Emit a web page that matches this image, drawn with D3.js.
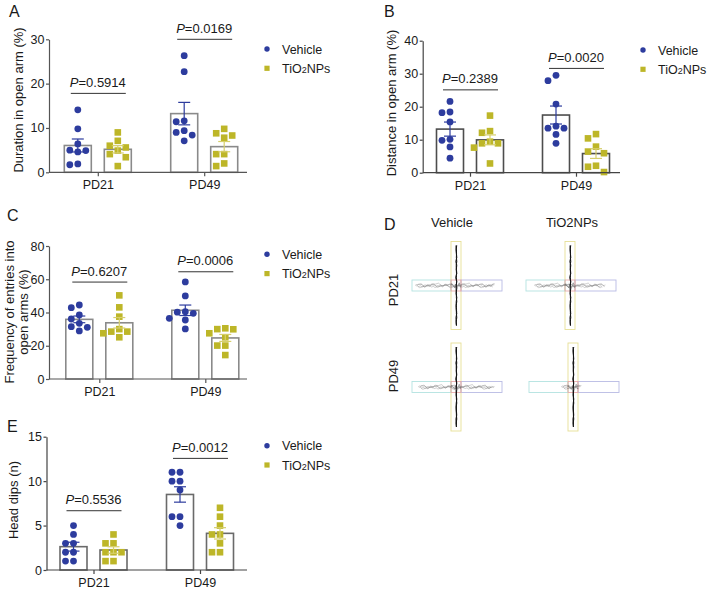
<!DOCTYPE html>
<html><head><meta charset="utf-8">
<script src="https://cdn.jsdelivr.net/npm/d3@7"></script>
<style>
body{margin:0;background:#fff}
svg{display:block}
text{font-family:"Liberation Sans",Arial,Helvetica,sans-serif;fill:#1a1a1a}
</style>
</head><body>
<svg id="fig" width="709" height="591"></svg>
<script>
// ---------------- DATA ----------------
const groups = ["PD21", "PD49"];
const seriesNames = ["Vehicle", "TiO2NPs"];

// individual animals per group (PD21, PD49)
const durationVehicle = [[14.1, 9.8, 6.4, 5.0, 4.9, 4.6, 1.9, 1.7], [26.3, 22.7, 11.6, 11.4, 9.4, 9.0, 8.4, 7.1]];
const durationTiO2   = [[9.0, 7.1, 6.0, 5.6, 4.9, 4.1, 3.4, 1.4], [9.8, 8.8, 8.3, 7.8, 4.1, 4.1, 2.0, 1.4]];
const distanceVehicle = [[21.6, 18.4, 18.2, 15.4, 10.1, 9.8, 7.8, 4.4], [29.5, 27.9, 20.8, 14.1, 13.5, 13.5, 11.6, 8.9]];
const distanceTiO2   = [[17.3, 12.6, 12.1, 9.4, 8.9, 8.9, 7.6, 2.8], [11.7, 10.4, 7.9, 6.4, 5.9, 2.1, 1.8, 0.2]];
const entriesVehicle = [[44.5, 42.9, 38.5, 36.1, 33.5, 31.5, 31.1, 28.9], [58.4, 50.0, 40.5, 40.2, 39.5, 36.5, 35.5, 30.1]];
const entriesTiO2   = [[50.3, 43.1, 37.5, 30.0, 28.5, 28.5, 27.5, 25.1], [30.5, 30.0, 29.9, 27.5, 25.1, 20.1, 20.1, 14.4]];
const headDipsVehicle = [[5, 4, 3, 3, 2, 2, 1, 1], [11, 11, 10, 10, 9, 6, 6, 5]];
const headDipsTiO2   = [[4, 3, 3, 2, 2, 2, 1, 1], [7, 6, 5, 4, 4, 3, 2, 2]];

const pDuration = ["0.5914", "0.0169"];
const pDistance = ["0.2389", "0.0020"];
const pEntries  = ["0.6207", "0.0006"];
const pHeadDips = ["0.5536", "0.0012"];

const ticksDuration = [0, 10, 20, 30];
const ticksDistance = [0, 10, 20, 30, 40];
const ticksEntries  = [0, 20, 40, 60, 80];
const ticksHeadDips = [0, 5, 10, 15];

const mazeCols = ["Vehicle", "TiO2NPs"];
const mazeRows = ["PD21", "PD49"];

// ---------------- STYLE ----------------
const BLUE = "#2d3c9e";
const OLIVE = "#bdb628";
const OLIVE_ERR = "#d6cf6c";
const FONT = '"Liberation Sans",Arial,Helvetica,sans-serif';

const svg = d3.select("#fig");

function panelLetter(t, x, y, size) {
  svg.append("text").attr("x", x).attr("y", y).attr("font-size", size || 16).text(t);
}

function tio2Text(sel, small) {
  sel.append("tspan").text("TiO");
  sel.append("tspan").attr("font-size", small).text("2");
  sel.append("tspan").text("NPs");
}

function swarm(values, y, cx, step, minDist) {
  const placed = [];
  const order = values.map((v, i) => ({ v, i })).sort((a, b) => b.v - a.v);
  const cands = [0, -step, step, -2 * step, 2 * step, -3 * step, 3 * step];
  order.forEach(o => {
    const py = y(o.v);
    let off = cands.find(c => placed.every(p => Math.hypot(p.x - (cx + c), p.y - py) >= minDist));
    if (off === undefined) off = 0;
    placed.push({ x: cx + off, y: py, v: o.v });
  });
  return placed;
}

function barPanel(cfg) {
  const L = cfg.layout;
  const g = svg.append("g");
  const y = d3.scaleLinear().domain([0, d3.max(cfg.ticks)]).range([L.yBot, L.yTop]);
  const xg = d3.scalePoint().domain(groups).range(L.groupRange);
  const xs = d3.scaleBand().domain(seriesNames).range([-33.5, 33.5]).paddingInner(0.325);

  const sets = [cfg.vehicle, cfg.tio2];
  const errColors = [BLUE, OLIVE_ERR];

  const stats = [];
  groups.forEach((gname, gi) => {
    seriesNames.forEach((sname, si) => {
      const vals = sets[si][gi];
      const m = d3.mean(vals);
      const sem = d3.deviation(vals) / Math.sqrt(vals.length);
      stats.push({ gname, sname, si, gi, vals, m, sem });
    });
  });

  // bars
  g.selectAll("rect.bar").data(stats).join("rect")
    .attr("class", "bar")
    .attr("x", d => xg(d.gname) + xs(d.sname))
    .attr("width", xs.bandwidth())
    .attr("y", d => y(d.m))
    .attr("height", d => y(0) - y(d.m))
    .attr("fill", "#fff")
    .attr("stroke", L.barStroke)
    .attr("stroke-width", 1.6);

  // points
  stats.forEach(d => {
    const cx = xg(d.gname) + xs(d.sname) + xs.bandwidth() / 2;
    const pts = swarm(d.vals, y, cx, 8, 7.2);
    if (d.si === 0) {
      g.selectAll(null).data(pts).join("circle")
        .attr("cx", p => p.x).attr("cy", p => p.y).attr("r", 3.4)
        .attr("fill", BLUE);
    } else {
      g.selectAll(null).data(pts).join("rect")
        .attr("x", p => p.x - 3.3).attr("y", p => p.y - 3.3)
        .attr("width", 6.6).attr("height", 6.6)
        .attr("fill", OLIVE);
    }
  });

  // error bars
  stats.forEach(d => {
    const cx = xg(d.gname) + xs(d.sname) + xs.bandwidth() / 2;
    const c = errColors[d.si];
    const top = y(d.m + d.sem), bot = y(d.m - d.sem);
    g.append("line").attr("x1", cx).attr("x2", cx).attr("y1", top).attr("y2", bot)
      .attr("stroke", c).attr("stroke-width", 1.2);
    [top, bot].forEach(yy => g.append("line").attr("x1", cx - 6).attr("x2", cx + 6)
      .attr("y1", yy).attr("y2", yy).attr("stroke", c).attr("stroke-width", 1.2));
  });

  // y axis
  const ya = g.append("g").attr("transform", `translate(${L.x0},0)`)
    .call(d3.axisLeft(y).tickValues(cfg.ticks).tickSize(3).tickPadding(1.5).tickSizeOuter(0));
  ya.select(".domain").attr("stroke", L.axisStroke).attr("stroke-width", 1.2);
  ya.selectAll(".tick line").attr("stroke", L.axisStroke).attr("stroke-width", 1.2);
  ya.selectAll(".tick text").attr("font-size", 12.5).attr("font-family", FONT).attr("fill", "#1a1a1a");

  // x axis
  const xa = g.append("g").attr("transform", `translate(0,${L.yBot})`)
    .call(d3.axisBottom(xg).tickSize(4).tickPadding(4));
  xa.select(".domain").remove();
  xa.selectAll(".tick line").attr("stroke", L.axisStroke).attr("stroke-width", 1.2);
  xa.selectAll(".tick text").attr("font-size", 12.5).attr("font-family", FONT).attr("fill", "#1a1a1a");
  g.append("line").attr("x1", L.x0).attr("x2", L.x1).attr("y1", L.yBot).attr("y2", L.yBot)
    .attr("stroke", L.axisStroke).attr("stroke-width", 1.2);

  // y label (one text element per line)
  cfg.ylabel.forEach((line, i) => {
    g.append("text")
      .attr("transform", `translate(${L.ylabX + i * 14},${L.ylabY}) rotate(-90)`)
      .attr("text-anchor", "middle").attr("dy", "0.35em").attr("font-size", 13)
      .text(line);
  });

  // p-value annotations
  groups.forEach((gname, gi) => {
    const cx = xg(gname);
    const ly = y(L.pLevels[gi]);
    g.append("line").attr("x1", cx - 27).attr("x2", cx + 28).attr("y1", ly).attr("y2", ly)
      .attr("stroke", "#333").attr("stroke-width", 1);
    const t = g.append("text").attr("x", cx).attr("y", ly - 6.5)
      .attr("text-anchor", "middle").attr("font-size", 13);
    t.append("tspan").attr("font-style", "italic").text("P");
    t.append("tspan").text("=" + cfg.pvals[gi]);
  });

  // legend
  const lg = g.append("g").attr("transform", `translate(${L.legX},${L.legY})`);
  lg.append("circle").attr("cx", 0).attr("cy", 0).attr("r", 2.7).attr("fill", BLUE);
  lg.append("text").attr("x", 15).attr("y", 4.6).attr("font-size", 12.5).text(seriesNames[0]);
  lg.append("rect").attr("x", -2.6).attr("y", 19.3 - 2.6).attr("width", 5.2).attr("height", 5.2).attr("fill", OLIVE);
  lg.append("text").attr("x", 15).attr("y", 19.3 + 4.6).attr("font-size", 12.5)
    .call(s => tio2Text(s, 9));
}

// ---------------- PANELS ----------------
barPanel({
  vehicle: durationVehicle, tio2: durationTiO2, pvals: pDuration, ticks: ticksDuration,
  ylabel: ["Duration in open arm (%)"],
  layout: { x0: 49, x1: 247, yTop: 39.3, yBot: 172.3, groupRange: [97.8, 204.2],
    barStroke: "#8a8a8a", axisStroke: "#555", ylabX: 18, ylabY: 100,
    pLevels: [17.8, 30], legX: 267, legY: 49 }
});
barPanel({
  vehicle: distanceVehicle, tio2: distanceTiO2, pvals: pDistance, ticks: ticksDistance,
  ylabel: ["Distance in open arm (%)"],
  layout: { x0: 422.7, x1: 620, yTop: 40.7, yBot: 172.7, groupRange: [470, 576],
    barStroke: "#4d4d4d", axisStroke: "#444", ylabX: 391, ylabY: 103,
    pLevels: [25.1, 31.6], legX: 643, legY: 50 }
});
barPanel({
  vehicle: entriesVehicle, tio2: entriesTiO2, pvals: pEntries, ticks: ticksEntries,
  ylabel: ["Frequency of entries into", "open arms (%)"],
  layout: { x0: 49, x1: 247, yTop: 246, yBot: 379, groupRange: [99.3, 205.3],
    barStroke: "#8a8a8a", axisStroke: "#555", ylabX: 9, ylabY: 312,
    pLevels: [58.3, 64.5], legX: 267, legY: 254.3 }
});
barPanel({
  vehicle: headDipsVehicle, tio2: headDipsTiO2, pvals: pHeadDips, ticks: ticksHeadDips,
  ylabel: ["Head dips (n)"],
  layout: { x0: 46.5, x1: 247, yTop: 436.7, yBot: 570, groupRange: [93.5, 200],
    barStroke: "#6a6a6a", axisStroke: "#444", ylabX: 13.5, ylabY: 500,
    pLevels: [6.67, 12.56], legX: 267, legY: 445.7 }
});

panelLetter("A", 9, 17, 16);
panelLetter("B", 384, 17, 16);
panelLetter("C", 7, 221, 16);
panelLetter("D", 384, 230, 16);
panelLetter("E", 7, 432, 16);

// ---------------- PANEL D (maze tracking illustrations) ----------------
const colX = d3.scalePoint().domain(mazeCols).range([456, 570]);
const rowY = d3.scalePoint().domain(mazeRows).range([285.5, 387]);
const headX = d3.scalePoint().domain(mazeCols).range([452, 572]);
const rowLabY = d3.scalePoint().domain(mazeRows).range([290, 376]);

mazeCols.forEach(c => {
  svg.append("text").attr("x", headX(c)).attr("y", 227).attr("text-anchor", "middle")
    .attr("font-size", 13).text(c);
});
mazeRows.forEach(r => {
  svg.append("text").attr("transform", `translate(393.5,${rowLabY(r)}) rotate(-90)`)
    .attr("text-anchor", "middle").attr("dy", "0.35em").attr("font-size", 13).text(r);
});

// horizontal exploration reach [left, right] in px, per row/col
const reach = { "PD21": { "Vehicle": [41, 40], "TiO2NPs": [36, 36] },
                "PD49": { "Vehicle": [38, 39], "TiO2NPs": [12, 10] } };
// fixed hand-drawn jitter used for the tracking scribbles
const wig = [0, -0.9, 0.4, -0.2, 1.1, -0.6, 0.1, 0.8, -1.2, 0.3, -0.1, 0.7, -0.5, 1.0, -0.3, 0.2, -0.8, 0.6];

const lineGen = d3.line().curve(d3.curveCatmullRom);
mazeRows.forEach(r => mazeCols.forEach(c => {
  const cx = colX(c) + (c === "TiO2NPs" && r === "PD49" ? 3 : 0);
  const cy = rowY(r);
  const mg = svg.append("g");
  // arms
  mg.append("rect").attr("x", cx - 5).attr("y", cy - 44).attr("width", 10).attr("height", 88)
    .attr("fill", "none").attr("stroke", "#e6df95").attr("stroke-width", 0.9);
  mg.append("rect").attr("x", cx - 44).attr("y", cy - 5.5).attr("width", 39).attr("height", 11)
    .attr("fill", "none").attr("stroke", "#b3e3e1").attr("stroke-width", 0.9);
  mg.append("rect").attr("x", cx + 5).attr("y", cy - 5.5).attr("width", 41).attr("height", 11)
    .attr("fill", "none").attr("stroke", "#b9bbe4").attr("stroke-width", 0.9);
  mg.append("rect").attr("x", cx - 5).attr("y", cy - 5.5).attr("width", 10).attr("height", 11)
    .attr("fill", "none").attr("stroke", "#e9a3a3").attr("stroke-width", 0.8);
  // horizontal scribbles
  const [lr, rr] = reach[r][c];
  for (let k = 0; k < 4; k++) {
    const pts = [];
    for (let i = 0, x = cx - lr + k; x <= cx + rr - k; i++, x += 1.7) {
      pts.push([x, cy + wig[(i * 7 + k * 5) % wig.length] * 1.3 + (k - 1.5) * 0.5]);
    }
    mg.append("path").attr("d", lineGen(pts)).attr("fill", "none")
      .attr("stroke", "#666").attr("stroke-width", 0.45).attr("opacity", 0.7);
  }
  // vertical track (dense, dark)
  for (let k = 0; k < 3; k++) {
    const pts = [];
    for (let i = 0, yy = cy - 40; yy <= cy + 40; i++, yy += 4) {
      pts.push([cx + 0.4 + wig[(i + k * 4) % wig.length] * 0.35, yy]);
    }
    mg.append("path").attr("d", lineGen(pts)).attr("fill", "none")
      .attr("stroke", "#111").attr("stroke-width", 0.9);
  }
  // central tangle
  const tang = [];
  for (let i = 0; i < 14; i++) tang.push([cx - 5 + i * 0.75, cy + wig[(i * 5) % wig.length] * 3]);
  mg.append("path").attr("d", lineGen(tang)).attr("fill", "none").attr("stroke", "#555").attr("stroke-width", 0.5);
}));
</script>
</body></html>
